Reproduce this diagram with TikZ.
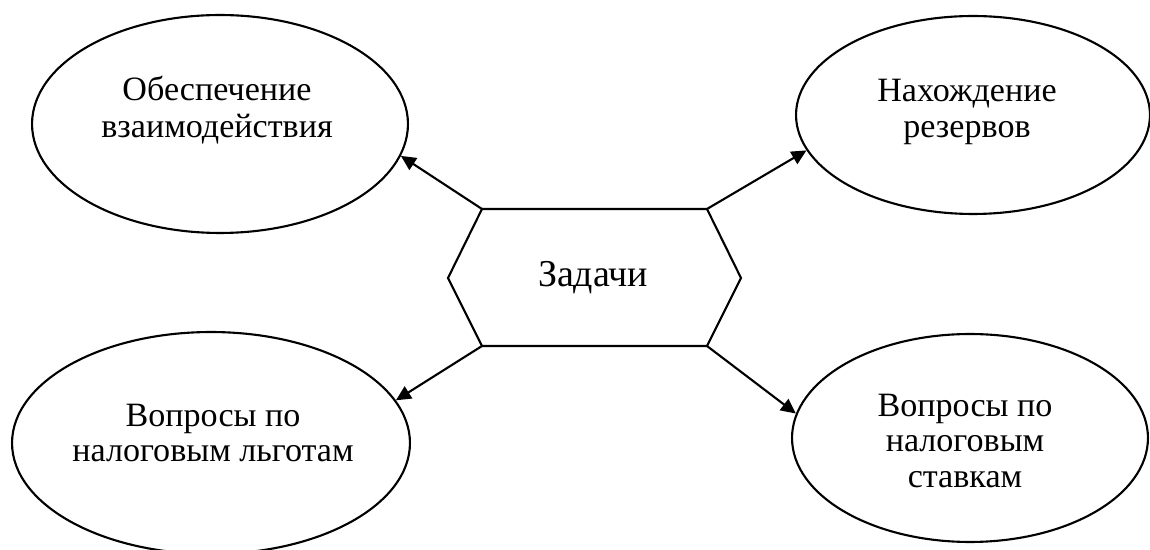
\documentclass[tikz,border=0pt]{standalone}
\usepackage{fontspec}
\setmainfont{Liberation Serif}
\usetikzlibrary{shapes.geometric,arrows.meta}
\tikzset{
  goal/.style={ellipse, draw, line width=1.2pt, inner sep=0pt},
  goaltext/.style={align=center, inner sep=0pt, font=\fontsize{19.4}{20}\selectfont},
  link/.style={line width=1.2pt, -{Triangle[length=8.5pt,width=8pt]}},
  hexline/.style={line width=1.2pt, line join=miter}
}
\begin{document}
\begin{tikzpicture}[x=0.02cm, y=-0.02cm]
\useasboundingbox (0,0) rectangle (1150,550);

% central hexagon
\coordinate (h1) at (482,209);
\coordinate (h2) at (707,209);
\coordinate (h3) at (741,278);
\coordinate (h4) at (707,346);
\coordinate (h5) at (482,346);
\coordinate (h6) at (448,278);
\draw[hexline] (h1) -- (h2) -- (h3) -- (h4) -- (h5) -- (h6) -- cycle;
\node[font=\fontsize{21.6}{24}\selectfont, inner sep=0pt] (task) at (593,278) {Задачи};

% four task ellipses
\node[goal, minimum width=7.52cm, minimum height=4.36cm] (tl) at (220,124) {};
\node[goal, minimum width=7.08cm, minimum height=3.96cm] (tr) at (973,115) {};
\node[goal, minimum width=7.96cm, minimum height=4.44cm] (bl) at (211,443) {};
\node[goal, minimum width=7.12cm, minimum height=4.16cm] (br) at (970,438) {};

\node[goaltext, font=\fontsize{19.4}{21.5}\selectfont] (tlt) at (217,110) {Обеспечение\\взаимодействия};
\node[goaltext] (trt) at (967,112) {Нахождение\\резервов};
\node[goaltext] (blt) at (213,433) {Вопросы по\\налоговым льготам};
\node[goaltext] (brt) at (965,441) {Вопросы по\\налоговым\\ставкам};

% connectors
\draw[link] (h1) -- (tl.350);
\draw[link] (h2) -- (tr.192);
\draw[link] (h5) -- (bl.13);
\draw[link] (h4) -- (br.172);
\end{tikzpicture}
\end{document}
